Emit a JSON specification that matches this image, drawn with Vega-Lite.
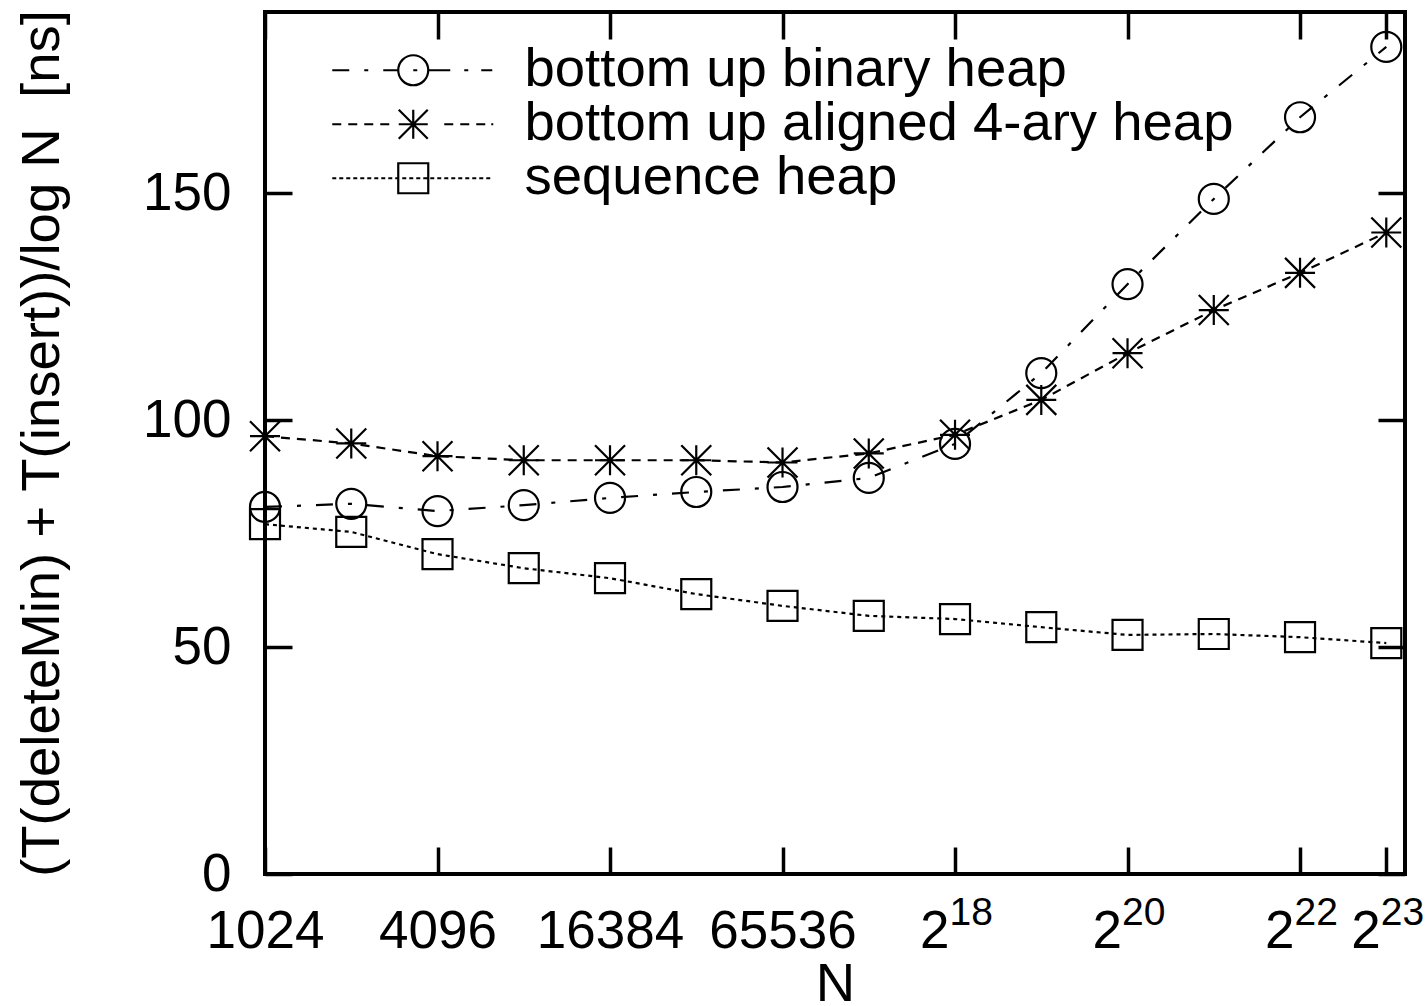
{
  "$schema": "https://vega.github.io/schema/vega-lite/v6.json",
  "width": 1140,
  "height": 862,
  "autosize": {"type": "none"},
  "padding": {"left": 265, "top": 12, "right": 21, "bottom": 132},
  "background": "white",
  "config": {
    "view": {"stroke": "black", "strokeWidth": 4},
    "font": "Liberation Sans",
    "axis": {
      "grid": false,
      "domain": false,
      "tickColor": "black",
      "tickWidth": 3.5,
      "tickSize": -27,
      "labelFont": "Liberation Sans",
      "labelFontSize": 53,
      "labelColor": "black",
      "titleFont": "Liberation Sans",
      "titleFontSize": 54.5,
      "titleFontWeight": "normal",
      "titleColor": "black"
    },
    "legend": {
      "orient": "none",
      "legendX": 121,
      "legendY": 31,
      "symbolSize": 400,
      "symbolStrokeWidth": 2.2,
      "symbolStrokeColor": "black",
      "symbolFillColor": "transparent",
      "labelFont": "Liberation Sans",
      "labelFontSize": 54.5,
      "labelColor": "black",
      "labelOffset": 84,
      "labelLimit": 2000,
      "rowPadding": -1,
      "padding": 0
    }
  },
  "data": {
    "values": [
      {"n": 1024, "series": "bottom up binary heap", "t": 80.9},
      {"n": 2048, "series": "bottom up binary heap", "t": 81.6},
      {"n": 4096, "series": "bottom up binary heap", "t": 80.0},
      {"n": 8192, "series": "bottom up binary heap", "t": 81.3},
      {"n": 16384, "series": "bottom up binary heap", "t": 82.9},
      {"n": 32768, "series": "bottom up binary heap", "t": 84.2},
      {"n": 65536, "series": "bottom up binary heap", "t": 85.3},
      {"n": 131072, "series": "bottom up binary heap", "t": 87.3},
      {"n": 262144, "series": "bottom up binary heap", "t": 94.8},
      {"n": 524288, "series": "bottom up binary heap", "t": 110.4},
      {"n": 1048576, "series": "bottom up binary heap", "t": 130.0},
      {"n": 2097152, "series": "bottom up binary heap", "t": 148.8},
      {"n": 4194304, "series": "bottom up binary heap", "t": 166.8},
      {"n": 8388608, "series": "bottom up binary heap", "t": 182.3},
      {"n": 1024, "series": "bottom up aligned 4-ary heap", "t": 96.5},
      {"n": 2048, "series": "bottom up aligned 4-ary heap", "t": 94.9},
      {"n": 4096, "series": "bottom up aligned 4-ary heap", "t": 92.1},
      {"n": 8192, "series": "bottom up aligned 4-ary heap", "t": 91.2},
      {"n": 16384, "series": "bottom up aligned 4-ary heap", "t": 91.2},
      {"n": 32768, "series": "bottom up aligned 4-ary heap", "t": 91.2},
      {"n": 65536, "series": "bottom up aligned 4-ary heap", "t": 90.7},
      {"n": 131072, "series": "bottom up aligned 4-ary heap", "t": 92.7},
      {"n": 262144, "series": "bottom up aligned 4-ary heap", "t": 96.8},
      {"n": 524288, "series": "bottom up aligned 4-ary heap", "t": 104.5},
      {"n": 1048576, "series": "bottom up aligned 4-ary heap", "t": 114.8},
      {"n": 2097152, "series": "bottom up aligned 4-ary heap", "t": 124.3},
      {"n": 4194304, "series": "bottom up aligned 4-ary heap", "t": 132.5},
      {"n": 8388608, "series": "bottom up aligned 4-ary heap", "t": 141.4},
      {"n": 1024, "series": "sequence heap", "t": 77.1},
      {"n": 2048, "series": "sequence heap", "t": 75.4},
      {"n": 4096, "series": "sequence heap", "t": 70.5},
      {"n": 8192, "series": "sequence heap", "t": 67.4},
      {"n": 16384, "series": "sequence heap", "t": 65.2},
      {"n": 32768, "series": "sequence heap", "t": 61.7},
      {"n": 65536, "series": "sequence heap", "t": 59.1},
      {"n": 131072, "series": "sequence heap", "t": 56.9},
      {"n": 262144, "series": "sequence heap", "t": 56.2},
      {"n": 524288, "series": "sequence heap", "t": 54.4},
      {"n": 1048576, "series": "sequence heap", "t": 52.7},
      {"n": 2097152, "series": "sequence heap", "t": 52.9},
      {"n": 4194304, "series": "sequence heap", "t": 52.2},
      {"n": 8388608, "series": "sequence heap", "t": 50.9}
    ]
  },
  "layer": [
    {
      "mark": {"type": "line", "color": "black", "strokeWidth": 2.2},
      "encoding": {
        "x": {
          "field": "n",
          "type": "quantitative",
          "scale": {"type": "log", "base": 2, "domain": [1024, 9750000], "nice": false},
          "axis": {
            "orient": "bottom",
            "values": [1024, 4096, 16384, 65536, 262144, 1048576, 4194304, 8388608],
            "labelExpr": "datum.value >= 262144 ? '2' : format(datum.value, 'd')",
            "labelAlign": {"condition": {"test": "datum.value >= 262144", "value": "right"}, "value": "center"},
            "labelOffset": {"condition": {"test": "datum.value >= 262144", "value": -6}, "value": 0},
            "labelBaseline": "alphabetic",
            "labelPadding": 100,
            "labelFlush": false,
            "labelOverlap": false,
            "title": "N",
            "titleX": 570,
            "titleY": 126,
            "titleBaseline": "alphabetic"
          }
        },
        "y": {
          "field": "t",
          "type": "quantitative",
          "scale": {"domain": [0, 190], "nice": false},
          "axis": {
            "orient": "left",
            "values": [0, 50, 100, 150],
            "labelPadding": 61,
            "title": "(T(deleteMin) + T(insert))/log N \u00a0[ns]",
            "titleX": -207,
            "titleY": 431,
            "titleBaseline": "alphabetic"
          }
        },
        "strokeDash": {
          "field": "series",
          "type": "nominal",
          "scale": {
            "domain": ["bottom up binary heap", "bottom up aligned 4-ary heap", "sequence heap"],
            "range": [[17, 15, 4, 15], [9, 7], [4, 4]]
          },
          "legend": null
        }
      }
    },
    {
      "mark": {"type": "point", "filled": false, "color": "black", "strokeWidth": 2.2, "size": 900, "opacity": 1},
      "encoding": {
        "x": {
          "field": "n",
          "type": "quantitative",
          "axis": {"orient": "top", "values": [1024, 4096, 16384, 65536, 262144, 1048576, 4194304, 8388608], "labels": false, "title": null}
        },
        "y": {
          "field": "t",
          "type": "quantitative",
          "axis": {"orient": "right", "values": [0, 50, 100, 150], "labels": false, "title": null}
        },
        "shape": {
          "field": "series",
          "type": "nominal",
          "scale": {
            "domain": ["bottom up binary heap", "bottom up aligned 4-ary heap", "sequence heap"],
            "range": ["circle", "M-1,0L1,0M0,-1L0,1M-1,-1L1,1M-1,1L1,-1", "square"]
          },
          "legend": null
        }
      }
    },
    {
      "transform": [{"filter": "false"}],
      "mark": {"type": "point", "filled": false, "color": "black", "strokeWidth": 2.2, "opacity": 1},
      "encoding": {
        "x": {
          "field": "n",
          "type": "quantitative",
          "axis": {
            "orient": "bottom",
            "values": [262144, 1048576, 4194304, 8388608],
            "labelExpr": "datum.value == 262144 ? '18' : datum.value == 1048576 ? '20' : datum.value == 4194304 ? '22' : '23'",
            "labelFontSize": 39,
            "labelAlign": "left",
            "labelBaseline": "alphabetic",
            "labelPadding": 50,
            "labelOffset": -6,
            "labelFlush": false,
            "labelOverlap": false,
            "ticks": false,
            "title": null
          }
        },
        "y": {"field": "t", "type": "quantitative", "axis": null},
        "shape": {
          "field": "series",
          "type": "nominal",
          "scale": {
            "domain": ["bottom up binary heap", "bottom up aligned 4-ary heap", "sequence heap"],
            "range": [
              "M-8.1,0H-6.4M-4.9,0H-4.5M-3,0H-1.5M0,0H0.4M1.5,0H3.7M5.1,0H5.5M6.8,0H7.9M1.5,0A1.5,1.5,0,1,1,-1.5,0A1.5,1.5,0,1,1,1.5,0",
              "M-8.1,0H-7.2M-6.5,0H-5.6M-4.9,0H-4M-3.3,0H-2.4M3.1,0H4M4.7,0H5.6M6.3,0H7.2M7.8,0H8M-1.45,0H1.45M0,-1.45V1.45M-1.45,-1.45L1.45,1.45M-1.45,1.45L1.45,-1.45",
              "M-8.1,0H-7.7M-7.4,0H-7M-6.7,0H-6.3M-6,0H-5.6M-5.3,0H-4.9M-4.6,0H-4.2M-3.9,0H-3.5M-3.2,0H-2.8M-2.5,0H-2.1M-1.8,0H-1.4M-1.1,0H-0.7M-0.4,0H0M0.3,0H0.7M1,0H1.4M1.7,0H2.1M2.4,0H2.8M3.1,0H3.5M3.8,0H4.2M4.5,0H4.9M5.2,0H5.6M5.9,0H6.3M6.6,0H7M7.3,0H7.7M-1.5,-1.5H1.5V1.5H-1.5Z"
            ]
          },
          "legend": {"title": null}
        }
      }
    }
  ],
  "resolve": {
    "scale": {"shape": "independent"},
    "axis": {"x": "independent", "y": "independent"}
  }
}
